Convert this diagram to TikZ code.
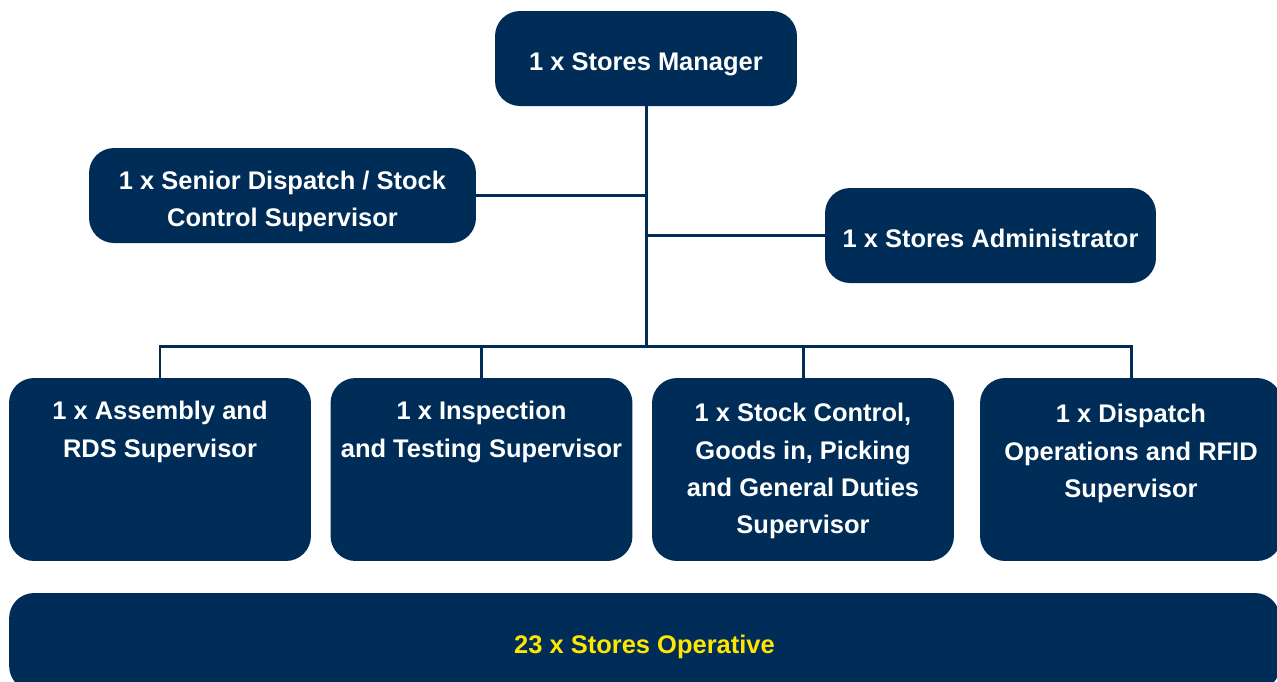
\documentclass[tikz,border=0pt]{standalone}
\usepackage{fontspec}
\setmainfont{Liberation Sans}
\usepackage{tikz}
\usetikzlibrary{positioning}
\definecolor{navy}{RGB}{0,45,88}
\definecolor{opyellow}{RGB}{255,230,0}

\begin{document}
\begin{tikzpicture}
    [
    x=0.02cm,y=-0.02cm,
    box/.style={rectangle,rounded corners=0.5cm,fill=navy,draw=none,inner sep=0pt},
    head/.style={box,text=white,text depth=0pt,font=\fontsize{14.5}{21.2}\selectfont\bfseries,align=center},
    oneline/.style={head,text height=13.5pt},
    supbox/.style={box,minimum width=6.04cm,minimum height=3.66cm},
    suptext/.style={anchor=north,inner sep=0pt,text=white,font=\fontsize{14.5}{21.2}\selectfont\bfseries,align=center},
    link/.style={draw=navy,line width=1.7pt}
    ]
    \useasboundingbox (0,0) rectangle (1277,681);
    % top of the tree
    \node (mgr) at (646,58.5) [oneline,minimum width=6.04cm,minimum height=1.9cm] {1 x Stores Manager};
    \node (senior) at (282.5,195.5) [head,text height=35pt,minimum width=7.74cm,minimum height=1.9cm] {1 x Senior Dispatch / Stock\\Control Supervisor};
    \node (admin) at (990.5,235.5) [oneline,minimum width=6.62cm,minimum height=1.9cm] {1 x Stores Administrator};
    % supervisors
    \node (assembly) at (160,469.5) [supbox] {};
    \node (inspection) at (481.5,469.5) [supbox] {};
    \node (stock) at (803,469.5) [supbox] {};
    \node (dispatch) at (1131,469.5) [supbox] {};
    \node (assemblytxt) at (160,401) [suptext] {1 x Assembly and\\RDS Supervisor};
    \node (inspectiontxt) at (481.5,401) [suptext] {1 x Inspection\\and Testing Supervisor};
    \node (stocktxt) at (803,403) [suptext] {1 x Stock Control,\\Goods in, Picking\\and General Duties\\Supervisor};
    \node (dispatchtxt) at (1131,404) [suptext] {1 x Dispatch\\Operations and RFID\\Supervisor};
    % operatives
    \node (operative) at (644.5,642) [oneline,minimum width=25.42cm,minimum height=1.96cm,text=opyellow] {23 x Stores Operative};
    \coordinate (bus) at (646,346);
    \draw [link] (mgr.south) to (bus);
    \draw [link] (senior.east) to (senior.east -| mgr.south);
    \draw [link] (admin.west) to (admin.west -| mgr.south);
    \draw [link] (assembly.north) -- (assembly.north |- bus) -- (dispatch.north |- bus) -- (dispatch.north);
    \draw [link] (inspection.north) to (inspection.north |- bus);
    \draw [link] (stock.north) to (stock.north |- bus);
  \end{tikzpicture}
\end{document}
